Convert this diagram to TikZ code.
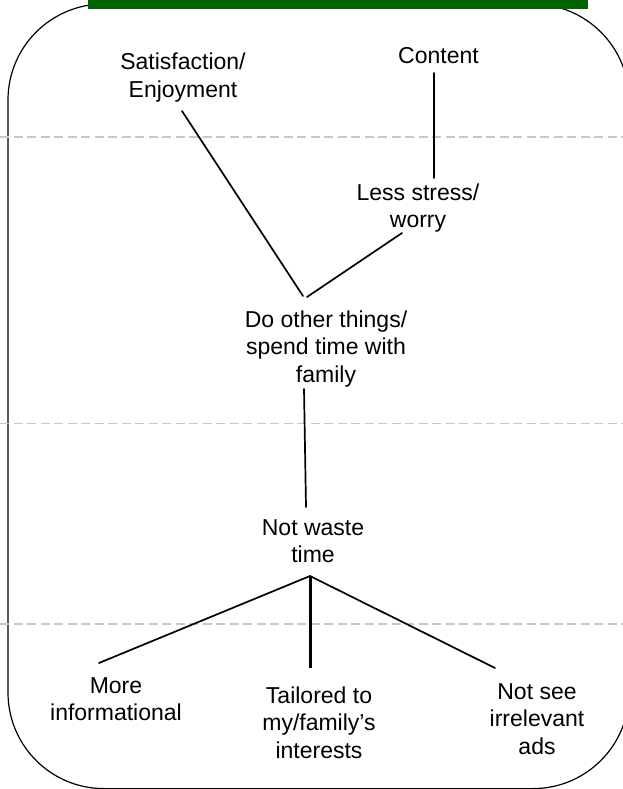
\documentclass[tikz,border=0pt]{standalone}
\usepackage{fontspec}
\setmainfont{Liberation Sans}
\definecolor{barGreen}{RGB}{0,100,0}
\definecolor{sepGray}{RGB}{200,200,200}
\begin{document}
\begin{tikzpicture}[x=1pt,y=-1pt,
  lbl/.style={align=center,inner sep=0pt,anchor=base,
    font=\fontsize{23}{27.5}\selectfont},
  link/.style={line width=1.7pt,line cap=round},
  sep/.style={draw=sepGray,line width=1.3pt,
    dash pattern=on 9pt off 4.5pt}]
\useasboundingbox (0,0) rectangle (623,789);
\begin{scope}
\clip (0,0) rectangle (623,789);
% rounded frame; its right side lies beyond the page edge
\draw[line width=1.2pt]
  (629,100) arc[start angle=0,end angle=90,radius=96pt]
  -- (104,4) arc[start angle=90,end angle=180,radius=96pt]
  -- (8,692.6) arc[start angle=180,end angle=270,radius=96pt]
  -- (533,788.6) arc[start angle=270,end angle=360,radius=96pt];
% title bar
\fill[barGreen] (88,0) rectangle (588,9);
% level separators
\draw[sep] (0,137) -- (623,137);
\draw[sep] (0,423.5) -- (623,423.5);
\draw[sep] (0,624) -- (623,624);
\end{scope}

% ladder elements (placed by the baseline of their last line)
\node[lbl] (sat) at (183,97.5) {Satisfaction/\\Enjoyment};
\node[lbl] (content) at (438.5,64) {Content};
\node[lbl] (less) at (418,227.5) {Less stress/\\worry};
\node[lbl] (do) at (326,382) {Do other things/\\spend time with\\family};
\node[lbl] (waste) at (313,562.5) {Not waste\\time};
\node[lbl] (more) at (116,720.5) {More\\informational};
\node[lbl] (tail) at (319,758) {Tailored to\\my/family’s\\interests};
\node[lbl] (notsee) at (537,754) {Not see\\irrelevant\\ads};

% connector end points
\coordinate (sat-b) at (182,111);
\coordinate (content-b) at (434,73);
\coordinate (less-t) at (434,178);
\coordinate (less-b) at (402,233);
\coordinate (do-tl) at (303,296);
\coordinate (do-tr) at (307,297);
\coordinate (do-b) at (304,389);
\coordinate (waste-t) at (306,507);
\coordinate (waste-b) at (310,576);
\coordinate (more-t) at (99,663);
\coordinate (tail-t) at (310,668);
\coordinate (notsee-t) at (495,668);

\draw[link] (sat-b) -- (do-tl);
\draw[link] (content-b) -- (less-t);
\draw[link] (less-b) -- (do-tr);
\draw[link] (do-b) -- (waste-t);
\draw[link] (waste-b) -- (more-t);
\draw[link,line width=3pt,line cap=butt] (waste-b) -- (tail-t);
\draw[link] (waste-b) -- (notsee-t);
\end{tikzpicture}
\end{document}
